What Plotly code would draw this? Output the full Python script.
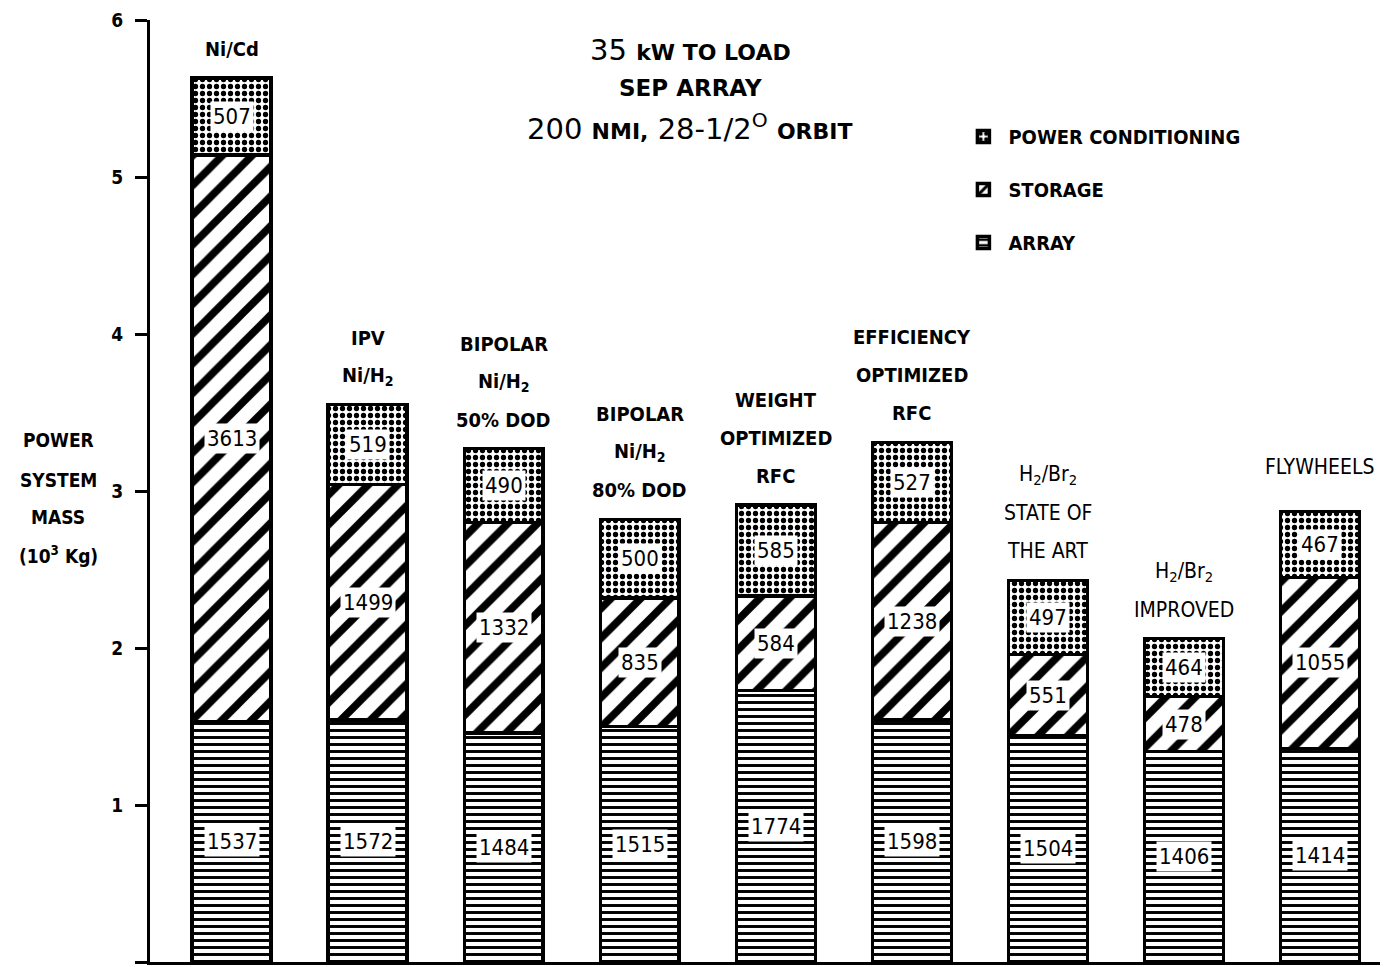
import plotly.graph_objects as go

# ---------------- data ----------------
systems = ["Ni/Cd", "IPV Ni/H2", "Bipolar Ni/H2 50% DOD", "Bipolar Ni/H2 80% DOD",
           "Weight optimized RFC", "Efficiency optimized RFC",
           "H2/Br2 state of the art", "H2/Br2 improved", "Flywheels"]

system_label_lines = [
    ["Ni/Cd"],
    ["IPV", "Ni/H<sub>2</sub>"],
    ["BIPOLAR", "Ni/H<sub>2</sub>", "50% DOD"],
    ["BIPOLAR", "Ni/H<sub>2</sub>", "80% DOD"],
    ["WEIGHT", "OPTIMIZED", "RFC"],
    ["EFFICIENCY", "OPTIMIZED", "RFC"],
    ["H<sub>2</sub>/Br<sub>2</sub>", "STATE OF", "THE ART"],
    ["H<sub>2</sub>/Br<sub>2</sub>", "IMPROVED"],
    ["FLYWHEELS"],
]
label_bold = [True, True, True, True, True, True, False, False, False]

# segment heights as drawn (10^3 kg)
array_mass = [1.53, 1.54, 1.46, 1.50, 1.73, 1.54, 1.44, 1.34, 1.36]
storage_mass = [3.61, 1.50, 1.34, 0.82, 0.60, 1.26, 0.52, 0.35, 1.09]
pc_mass = [0.49, 0.51, 0.47, 0.50, 0.58, 0.51, 0.47, 0.37, 0.42]

# printed values (kg)
array_label = [1537, 1572, 1484, 1515, 1774, 1598, 1504, 1406, 1414]
storage_label = [3613, 1499, 1332, 835, 584, 1238, 551, 478, 1055]
pc_label = [507, 519, 490, 500, 585, 527, 497, 464, 467]

y_ticks = [0, 1, 2, 3, 4, 5, 6]

# ---------------- figure ----------------
FONT = "DejaVu Sans Condensed"
WIDE = "DejaVu Sans"
fig = go.Figure()

def pattern(shape, size, solidity):
    return dict(shape=shape, fgcolor="black", bgcolor="white", size=size,
                solidity=solidity, fillmode="overlay", fgopacity=1)

series = [
    ("ARRAY", array_mass, pattern("-", 7, 0.42), 3),
    ("STORAGE", storage_mass, pattern("/", 21, 0.36), 2),
    ("POWER CONDITIONING", pc_mass, pattern(".", 7, 0.45), 1),
]
for name, vals, pat, rank in series:
    fig.add_trace(go.Bar(
        x=systems, y=vals, name=name, legendgroup=name, legendrank=rank,
        width=0.58,
        marker=dict(color="white", pattern=pat,
                    line=dict(color="black", width=3.5)),
        hoverinfo="skip",
    ))

# value labels in white boxes at segment centres
for i, s in enumerate(systems):
    a, st, p = array_mass[i], storage_mass[i], pc_mass[i]
    for ymid, lab in [(a / 2, array_label[i]),
                      (a + st / 2, storage_label[i]),
                      (a + st + p / 2, pc_label[i])]:
        fig.add_annotation(x=s, y=ymid, xref="x", yref="y", text=str(lab),
                           showarrow=False, bgcolor="white", borderpad=2,
                           xanchor="center", yanchor="middle",
                           font=dict(family=FONT, size=22, color="black"))

# category labels above bars
for i, s in enumerate(systems):
    top = array_mass[i] + storage_mass[i] + pc_mass[i]
    lines = system_label_lines[i]
    n = len(lines)
    base = 44 if i == 8 else 29
    for j, ln in enumerate(lines):
        fig.add_annotation(x=s, y=top, xref="x", yref="y",
                           text=("<b>%s</b>" % ln) if label_bold[i] else ln,
                           showarrow=False, xanchor="center", yanchor="middle",
                           yshift=base + 38 * (n - 1 - j),
                           font=dict(family=FONT, size=20 if label_bold[i] else 21,
                                     color="black"))

# title block
title_lines = [
    ("35 <span style='font-size:22px'><b>kW TO LOAD</b></span>", 50, 29),
    ("<b>SEP ARRAY</b>", 88, 23),
    ("200 <span style='font-size:22px'><b>NMI,</b></span> 28-1/2<sup>O</sup> "
     "<span style='font-size:22px'><b>ORBIT</b></span>", 127, 29),
]
for txt, ypx, fs in title_lines:
    fig.add_annotation(x=(690 - 150) / 1238, y=(962 - ypx) / 942,
                       xref="paper", yref="paper", text=txt, showarrow=False,
                       xanchor="center", yanchor="middle",
                       font=dict(family=WIDE, size=fs, color="black"))

# y-axis title
ytitle = [("<b>POWER</b>", 440), ("<b>SYSTEM</b>", 480), ("<b>MASS</b>", 517),
          ("<b>(10<sup>3</sup> Kg)</b>", 555)]
for txt, ypx in ytitle:
    fig.add_annotation(x=(58 - 150) / 1238, y=(962 - ypx) / 942,
                       xref="paper", yref="paper", text=txt, showarrow=False,
                       xanchor="center", yanchor="middle",
                       font=dict(family=FONT, size=19, color="black"))

fig.update_layout(
    width=1380, height=959,
    barmode="stack",
    plot_bgcolor="white", paper_bgcolor="white",
    margin=dict(l=142, r=0, t=12, b=5),
    showlegend=True,
    legend=dict(x=0.653, y=0.897, xanchor="left", yanchor="top",
                traceorder="grouped", tracegroupgap=24,
                font=dict(family=FONT, size=20, color="black", weight="bold"),
                bgcolor="rgba(0,0,0,0)", itemwidth=40),
    xaxis=dict(range=[-0.6, 8.5], showticklabels=False, ticks="",
               showgrid=False, zeroline=False, showline=True,
               linecolor="black", linewidth=3),
    yaxis=dict(range=[0, 6], tickvals=y_ticks, ticktext=[str(t) for t in y_ticks],
               ticks="outside", ticklen=12, tickwidth=3, tickcolor="black",
               showgrid=False, zeroline=False, showline=True,
               linecolor="black", linewidth=3, ticklabelstandoff=8,
               tickfont=dict(family=FONT, size=19, color="black", weight="bold")),
)

fig.write_html("out.html")
